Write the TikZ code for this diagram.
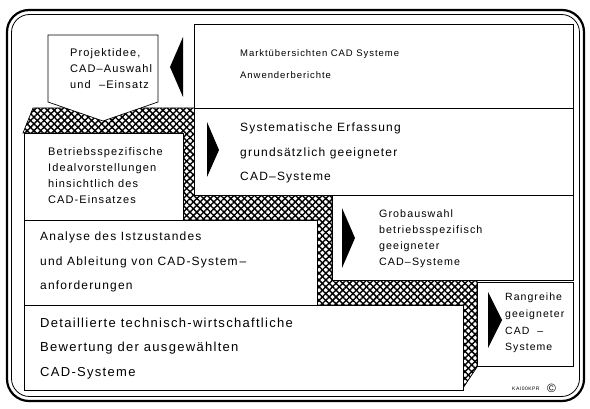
\documentclass[tikz,border=0pt]{standalone}
\usepackage{fontspec}
\setmainfont{Liberation Sans}[LetterSpace=10]
\usetikzlibrary{patterns.meta}
\begin{document}
\begin{tikzpicture}[x=1pt,y=-1pt,
  box/.style={draw=black,fill=white,line width=0.7pt},
  tri/.style={fill=black},
  txt/.style={anchor=base west,inner sep=0pt,align=left},
  hatchA/.style={pattern={Lines[angle=45,distance=4.8pt,line width=1.45pt]}},
  hatchB/.style={pattern={Lines[angle=-45,distance=4.8pt,line width=1.45pt]}}]
\useasboundingbox (0,0) rectangle (590,409);
% outer frame
\draw[line width=2.2pt,rounded corners=22pt] (7,10) rectangle (584,401);
\draw[line width=0.8pt,rounded corners=18pt] (11.5,14.5) rectangle (579.5,396.5);
% hatched band
\def\hatchpath{(23,133) -- (33,108) -- (195,108) -- (195,195) -- (332,195) -- (332,280) -- (477,280) -- (477,367) -- (463,388) -- (463,305) -- (317,305) -- (317,220) -- (183,220) -- (183,133) -- cycle}
\path[hatchA] \hatchpath;
\path[hatchB] \hatchpath;
\draw[line width=0.7pt] \hatchpath;
% boxes
\draw[box] (194,24) rectangle (573,108);
\draw[box] (194,108) rectangle (573,195);
\draw[box] (24,133) rectangle (183,220);
\draw[box] (332,195) rectangle (573,280);
\draw[box] (24,220) rectangle (317,305);
\draw[box] (24,305) rectangle (463,390);
\draw[box] (477,282) rectangle (573,366);
\draw[box] (48,35) -- (158,35) -- (158,102) -- (103,121) -- (48,102) -- cycle;
% triangles
\fill[tri] (183,37) -- (183,97) -- (170,67) -- cycle;
\fill[tri] (207,122) -- (207,177) -- (219,150) -- cycle;
\fill[tri] (342,208) -- (342,268) -- (355,238) -- cycle;
\fill[tri] (488,292) -- (488,348) -- (502,320) -- cycle;
% texts (base anchor = baseline of last line)
\node[txt,font=\fontsize{11}{16}\selectfont] (tA) at (70,89) {Projektidee,\\CAD–Auswahl\\und\ \ –Einsatz};
\node[txt,font=\fontsize{9.5}{22}\selectfont] (tB) at (240,79) {Marktübersichten CAD Systeme\\Anwenderberichte};
\node[txt,font=\fontsize{12}{24.5}\selectfont] (tC) at (240,181) {Systematische Erfassung\\grundsätzlich geeigneter\\CAD–Systeme};
\node[txt,font=\fontsize{11}{16}\selectfont] (tD) at (48,204) {Betriebsspezifische\\Idealvorstellungen\\hinsichtlich des\\CAD-Einsatzes};
\node[txt,font=\fontsize{10.7}{16.3}\selectfont] (tE) at (379,266) {Grobauswahl\\betriebsspezifisch\\geeigneter\\CAD–Systeme};
\node[txt,font=\fontsize{12}{24.5}\selectfont] (tF) at (40,290) {Analyse des Istzustandes\\und Ableitung von CAD-System\,–\\anforderungen};
\node[txt,font=\fontsize{13}{24.5}\selectfont] (tG) at (40,376) {Detaillierte technisch-wirtschaftliche\\Bewertung der ausgewählten\\CAD-Systeme};
\node[txt,font=\fontsize{10.5}{16.7}\selectfont] (tH) at (505,351) {Rangreihe\\geeigneter\\CAD\ \ –\\Systeme};
\node[txt,font=\fontsize{5}{6}\selectfont] (lab) at (512,391) {KAI00KPR};
\node[txt,font=\fontsize{12}{12}\selectfont] (copy) at (547,392) {©};
\end{tikzpicture}
\end{document}
